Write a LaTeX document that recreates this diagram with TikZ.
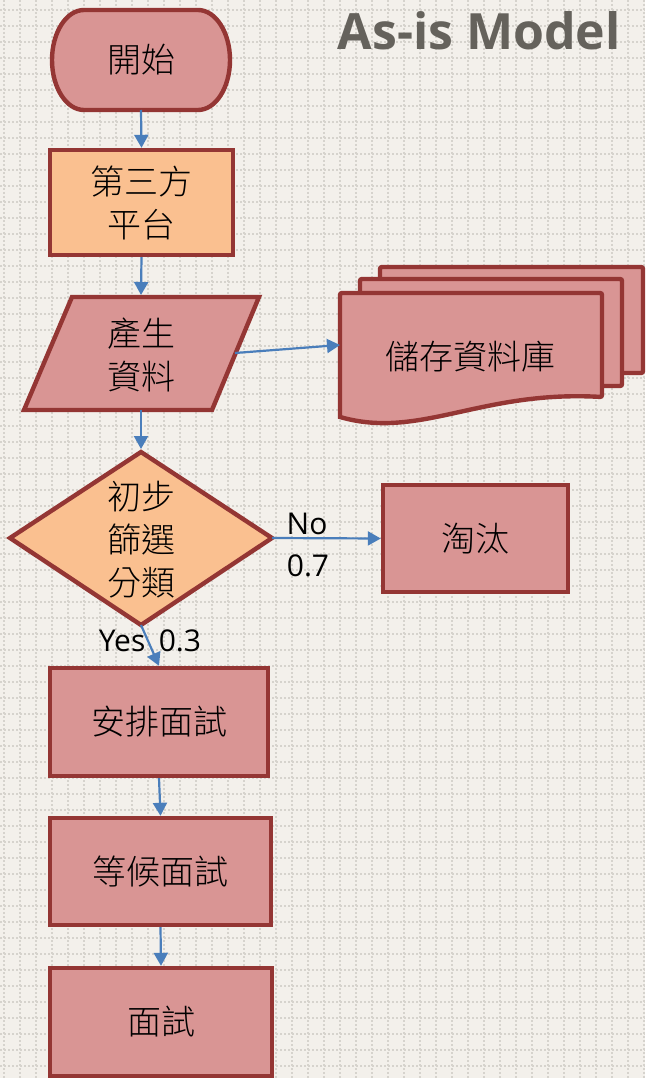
\documentclass[tikz,border=0pt]{standalone}
\usepackage{fontspec}
\setmainfont{Open Sans}
\newfontfamily\cjk{Noto Sans CJK TC Light}
\usetikzlibrary{arrows.meta}
\definecolor{bgc}{HTML}{F3F0EB}
\definecolor{gridc}{HTML}{D6D3CD}
\definecolor{pinkf}{HTML}{D99594}
\definecolor{orangef}{HTML}{FAC090}
\definecolor{bord}{HTML}{943634}
\definecolor{arrc}{HTML}{4A7EBB}
\definecolor{titlec}{HTML}{65625C}
\tikzset{
  gridline/.style={draw=gridc, line width=1.3pt, dash pattern=on 1.6pt off 2.4pt},
  shp/.style={draw=bord, line width=4.4pt, fill=pinkf},
  box/.style={shp, rectangle, inner sep=0pt, align=center,
    font=\cjk\fontsize{34}{43}\selectfont},
  txt/.style={inner sep=0pt, align=center, font=\cjk\fontsize{34}{43}\selectfont},
  lbl/.style={inner sep=0pt, font=\fontsize{30}{34}\selectfont},
  arr/.style={draw=arrc, line width=2.2pt, -{Triangle[length=13pt,width=14pt]}},
}
\begin{document}
\begin{tikzpicture}[x=1pt,y=-1pt]
\useasboundingbox (0,0) rectangle (645,1078);
\fill[bgc] (0,0) rectangle (645,1078);
\foreach \x in {4,20,...,644} \draw[gridline] (\x,0) -- (\x,1078);
\foreach \y in {10,26,...,1078} \draw[gridline] (0,\y) -- (645,\y);

% title
\node[anchor=base east, inner sep=0pt, text=titlec,
  font=\bfseries\fontsize{50}{56}\selectfont] (title) at (621,50) {As-is Model};

% start terminator
\draw[shp] (84,10) -- (198,10) arc[start angle=-90,end angle=90,x radius=32,y radius=50]
  -- (84,110) arc[start angle=90,end angle=270,x radius=32,y radius=50] -- cycle;
\node[txt] (start) at (141,60) {開始};
\coordinate (startB) at (141,110);

% platform
\node[box, fill=orangef, minimum width=183pt, minimum height=105pt] (plat) at (141.5,202.5) {第三方\\平台};

% data parallelogram
\draw[shp] (72,297) -- (259,297) -- (212,410) -- (24,410) -- cycle;
\node[txt] (data) at (141,355) {產生\\資料};
\coordinate (dataT) at (141,295);
\coordinate (dataB) at (141,410);
\coordinate (dataR) at (235,353);

% storage multi-document
\draw[shp, rounded corners=2pt] (380,267) rectangle (643,373);
\draw[shp, rounded corners=2pt] (360,279) rectangle (622,386);
\draw[shp, rounded corners=2pt] (340,417) -- (340,293) -- (602,293) -- (602,397)
  [sharp corners] .. controls (480,390) and (420,440) .. (340,417) -- cycle;
\node[txt] (db) at (470,357) {儲存資料庫};
\coordinate (dbL) at (340,345);

% decision diamond
\draw[shp, fill=orangef] (141,452) -- (272,538) -- (141,625) -- (10,538) -- cycle;
\node[txt] (dec) at (141,540) {初步\\篩選\\分類};
\coordinate (decT) at (141,449);
\coordinate (decR) at (272,538);
\coordinate (decB) at (141,625);

% reject
\node[box, minimum width=185pt, minimum height=107pt] (rej) at (475.5,538.5) {淘汰};

% process boxes
\node[box, minimum width=218pt, minimum height=108pt] (arr1) at (159,722) {安排面試};
\node[box, minimum width=221pt, minimum height=107pt] (wait) at (160.5,871.5) {等候面試};
\node[box, minimum width=222pt, minimum height=108pt] (intv) at (161,1022) {面試};

% labels
\node[lbl] (no) at (307,524) {No};
\node[lbl] (p7) at (308,566) {0.7};
\node[lbl] (yes) at (150,641) {Yes\hspace{0.45em}0.3};

% connectors
\draw[arr] (startB) -- (plat.north);
\draw[arr] (plat.south) -- (dataT);
\draw[arr] (dataR) -- (dbL);
\draw[arr] (dataB) -- (decT);
\draw[arr] (decR) -- (rej.west);
\draw[arr] (decB) -- (arr1.north);
\draw[arr] (arr1.south) -- (wait.north);
\draw[arr] (wait.south) -- (intv.north);
\end{tikzpicture}
\end{document}
